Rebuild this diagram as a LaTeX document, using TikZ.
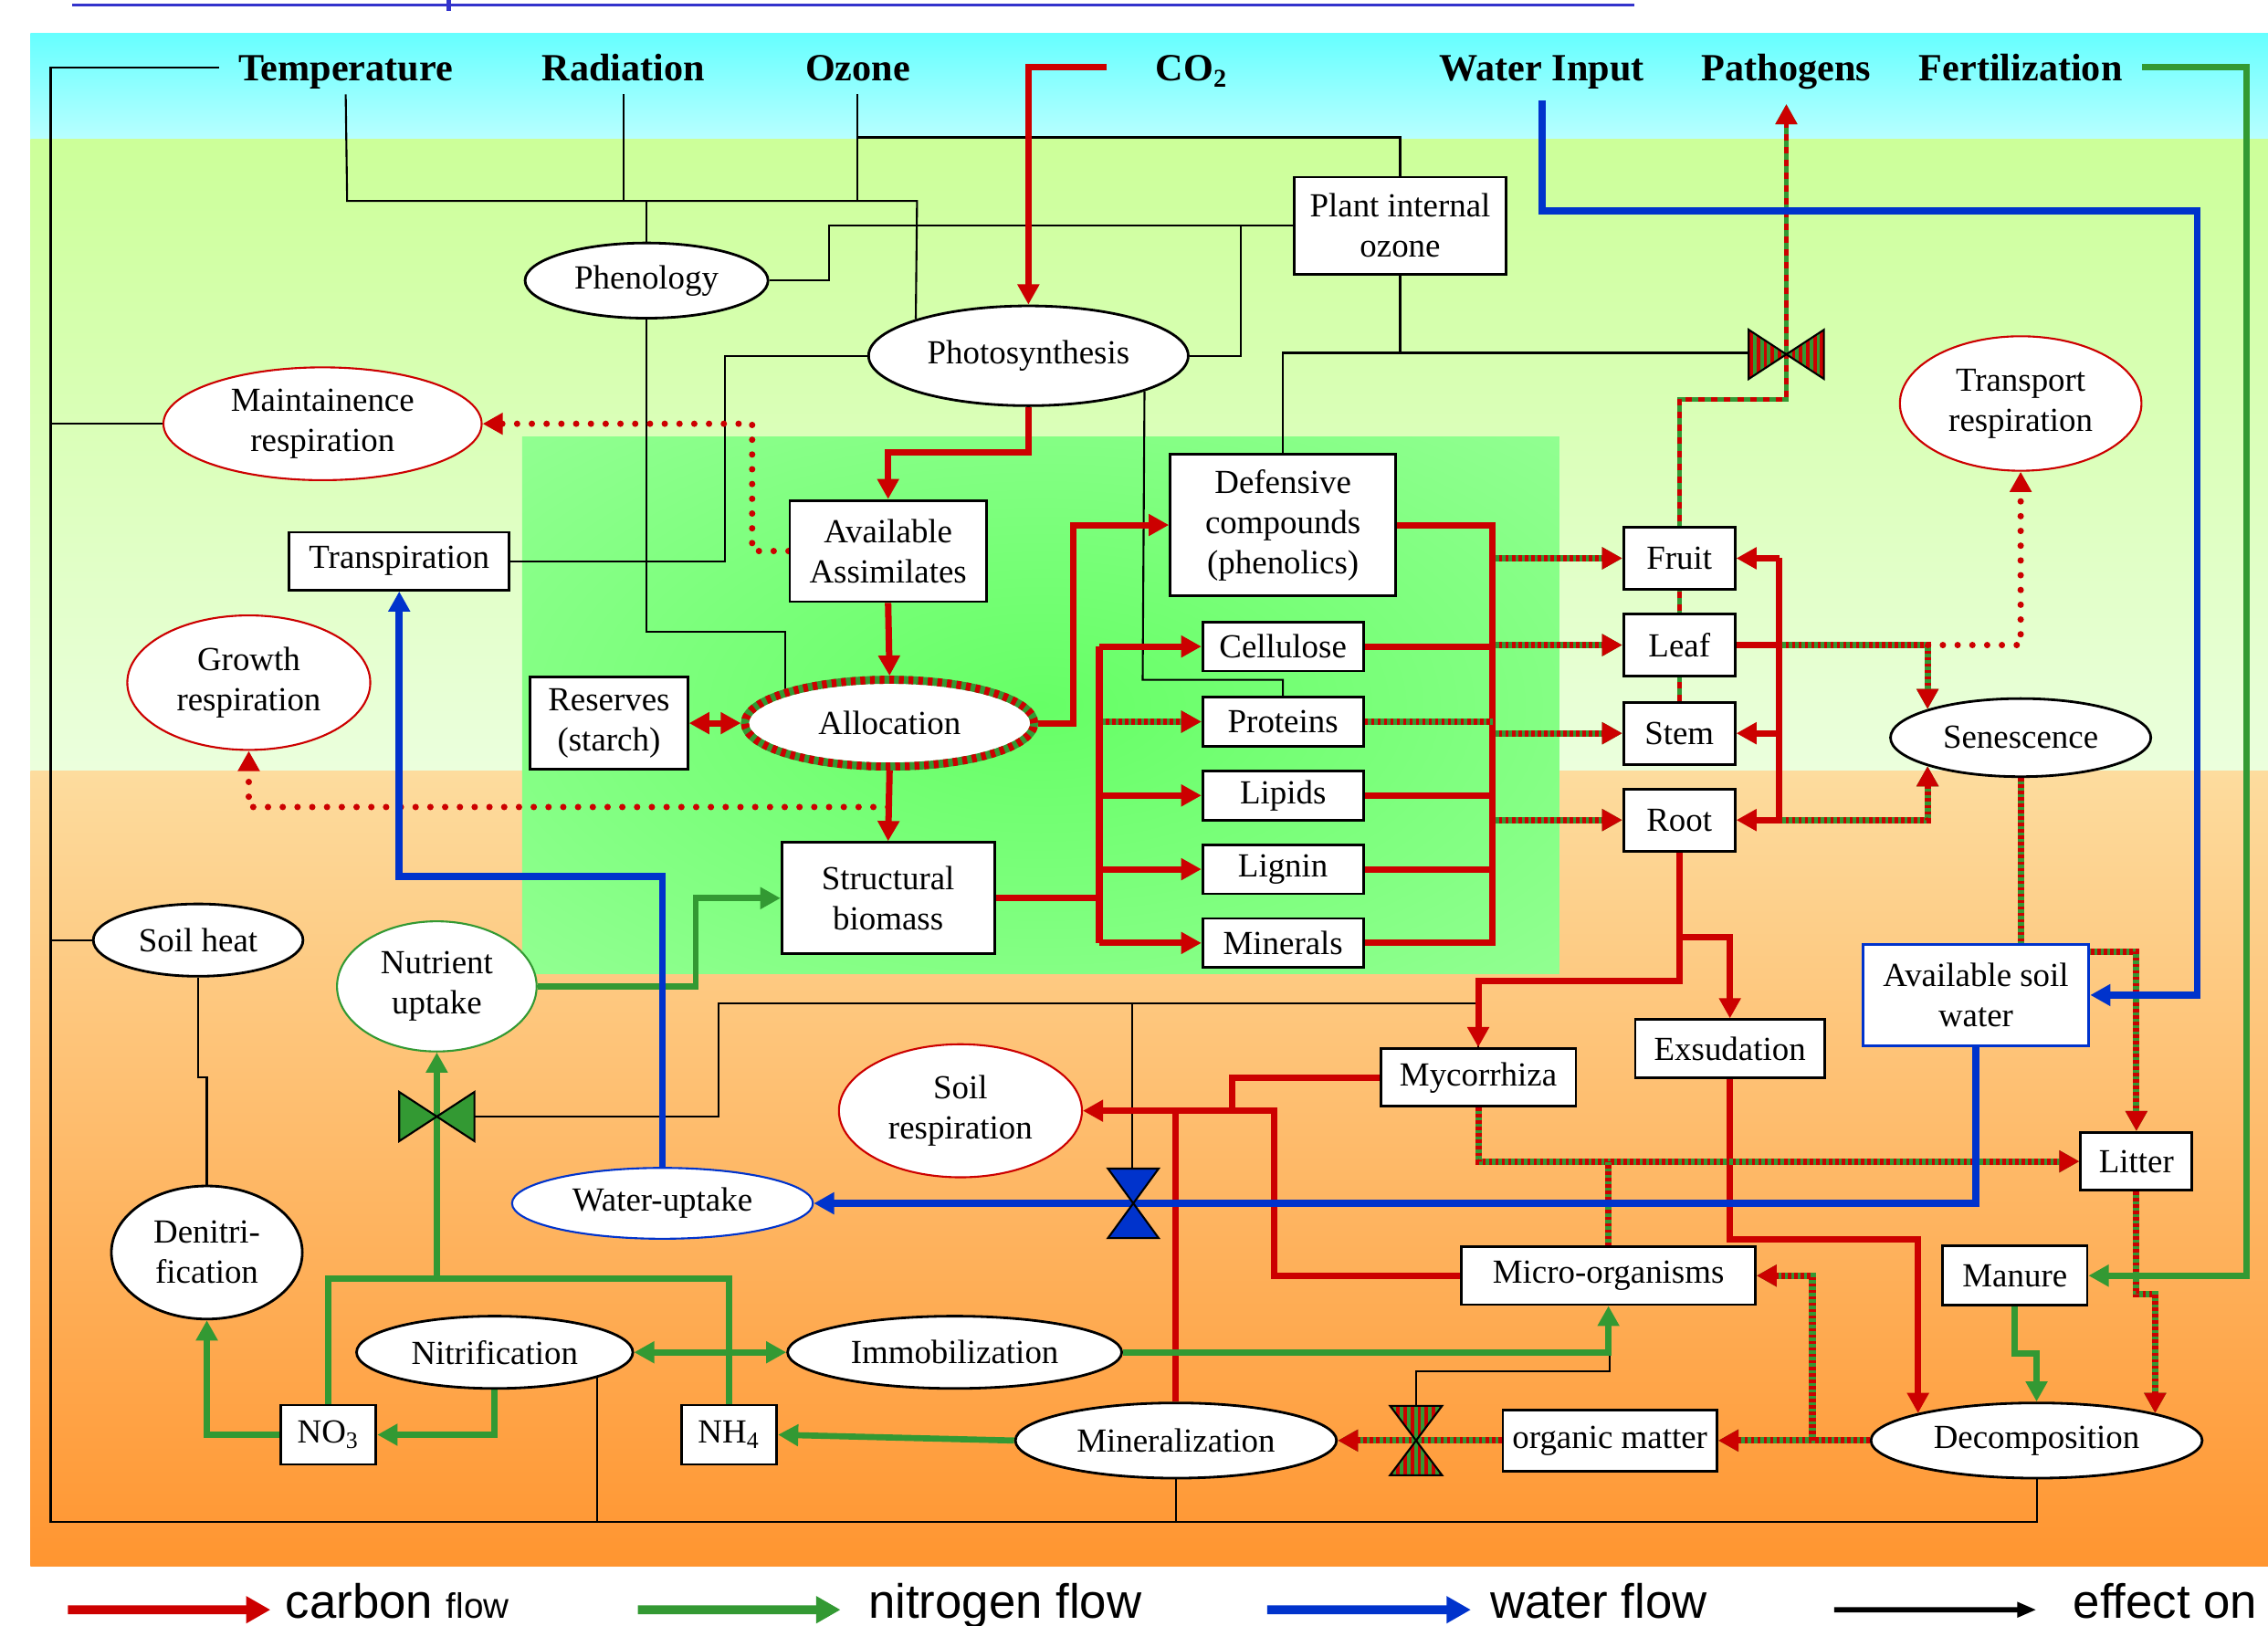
\documentclass[tikz,border=0pt]{standalone}
\usepackage{fontspec}
\setmainfont{Liberation Serif}
\newfontfamily\legfont{Liberation Sans}
\usetikzlibrary{shapes.geometric,arrows.meta,patterns.meta}

\definecolor{cred}{HTML}{CC0000}
\definecolor{cgreen}{HTML}{339933}
\definecolor{cblue}{HTML}{0033CC}
\definecolor{topblue}{HTML}{3333CC}
\definecolor{sky1}{HTML}{66FFFF}
\definecolor{sky2}{HTML}{B8FFFF}
\definecolor{plant1}{HTML}{CCFF99}
\definecolor{plant2}{HTML}{EBFFDD}
\definecolor{soil1}{HTML}{FDDC9E}
\definecolor{soil2}{HTML}{FF9530}
\definecolor{core1}{HTML}{66FF66}
\definecolor{core2}{HTML}{A3FFA3}
\pgfdeclareradialshading{coreshade}{\pgfpoint{0bp}{0bp}}{color(0bp)=(core1); color(50bp)=(core2)}

\pgfdeclarelayer{bg}
\pgfdeclarelayer{lines}
\pgfsetlayers{bg,lines,main}

\newcommand\ux{0.01584cm}
\newcommand\ndfont{\fontsize{10.5}{12.5}\selectfont}

\tikzset{
  sz/.style 2 args={minimum width=#1*\ux, minimum height=#2*\ux},
  obox/.style={draw, fill=white, line width=0.8pt, inner sep=0pt, align=center, font=\ndfont},
  oell/.style={ellipse, draw, fill=white, line width=0.8pt, inner sep=0pt, align=center, font=\ndfont},
  rell/.style={oell, draw=cred, line width=0.6pt},
  mixborder/.style={draw=cgreen, line width=2.5pt, postaction={draw=cred, line width=2.5pt, dash pattern=on 1.5pt off 1.5pt}},
  topl/.style={anchor=base, font=\fontsize{12}{14}\selectfont\bfseries, text height=8.5pt, text depth=0pt, inner xsep=6pt, inner ysep=4pt},
  legt/.style={anchor=base west, font=\legfont\fontsize{15}{15}\selectfont, inner sep=0pt, text height=5.4pt, text depth=0pt},
  eff/.style={line width=0.6pt},
  cflow/.style={draw=cred, line width=2pt},
  nflow/.style={draw=cgreen, line width=1.9pt},
  wflow/.style={draw=cblue, line width=2.2pt},
  mixthick/.style={draw=cgreen, line width=2pt, postaction={draw=cred, line width=2pt, dash pattern=on 1pt off 1pt}},
  mixthin/.style={draw=cgreen, line width=1.5pt, postaction={draw=cred, line width=1.5pt, dash pattern=on 2pt off 2pt}},
  dotflow/.style={draw=cred, line width=2pt, line cap=round, dash pattern=on 0pt off 4.6pt},
  arr/.style={-{Triangle[length=6.3pt,width=6.5pt]}},
  darr/.style={{Triangle[length=6.3pt,width=6.5pt]}-{Triangle[length=6.3pt,width=6.5pt]}},
  valve/.style={draw, line width=0.6pt, fill=#1},
  stripes/.style={preaction={fill=cgreen}, preaction={pattern={Lines[angle=90,distance=2.2pt,line width=1.1pt]}, pattern color=cred}, draw, line width=0.6pt},
  legarr/.style={line width=2.8pt, -{Triangle[length=7.6pt,width=8pt]}}
}

\begin{document}
\begin{tikzpicture}[x=\ux, y=-\ux]
\useasboundingbox (0,0) rectangle (1568,1124);

% background bands
\begin{pgfonlayer}{bg}
\shade[top color=sky1, bottom color=sky2] (21,23) rectangle (1568,96);
\shade[top color=plant1, bottom color=plant2] (21,96) rectangle (1568,533);
\shade[top color=soil1, bottom color=soil2] (21,533) rectangle (1568,1083);
\shade[shading=coreshade] (361,302) rectangle (1078,673);
\draw[topblue, line width=0.95pt] (50,3.6) -- (1130,3.6);
\draw[topblue, line width=1.4pt] (310,0) -- (310,7.4);
\end{pgfonlayer}

% drivers
\node[topl] (temp) at (239,56) {Temperature};
\node[topl] (radi) at (431,56) {Radiation};
\node[topl] (ozone) at (593,56) {Ozone};
\node[topl] (co2) at (824,56) {CO\textsubscript{2}};
\node[topl] (water) at (1066,56) {Water Input};
\node[topl] (patho) at (1235,56) {Pathogens};
\node[topl] (fert) at (1397,56) {Fertilization};

% plant
\node[oell, sz={168}{52}] (pheno) at (447,194) {Phenology};
\node[oell, sz={221}{69}] (photo) at (711,246) {Photosynthesis};
\node[obox, sz={146}{67}] (pio) at (968,156) {Plant internal\\ozone};
\node[rell, sz={220}{78}] (maint) at (223,293) {Maintainence\\respiration};
\node[rell, sz={167}{93}] (trans) at (1397,279) {Transport\\respiration};
\node[obox, sz={152}{40}] (transp) at (276,388) {Transpiration};
\node[obox, sz={136}{70}] (assim) at (614,381) {Available\\Assimilates};
\node[obox, sz={156}{98}] (def) at (887,363) {Defensive\\compounds\\(phenolics)};
\node[rell, sz={168}{93}] (growth) at (172,472) {Growth\\respiration};
\node[obox, sz={109}{64}] (res) at (421,500) {Reserves\\(starch)};
\node[oell, sz={200}{60}, mixborder] (alloc) at (615,500) {Allocation};
\node[obox, sz={111}{34}] (cell) at (887,447) {Cellulose};
\node[obox, sz={111}{34}] (prot) at (887,499) {Proteins};
\node[obox, sz={111}{34}] (lipid) at (887,550) {Lipids};
\node[obox, sz={111}{34}] (lignin) at (887,601) {Lignin};
\node[obox, sz={111}{34}] (miner) at (887,652) {Minerals};
\node[obox, sz={147}{77}] (struct) at (614,621) {Structural\\biomass};
\node[obox, sz={77}{43}] (fruit) at (1161,386) {Fruit};
\node[obox, sz={77}{43}] (leaf) at (1161,446) {Leaf};
\node[obox, sz={77}{43}] (stem) at (1161,507) {Stem};
\node[obox, sz={77}{43}] (root) at (1161,567) {Root};
\node[oell, sz={180}{54}] (sen) at (1397,510) {Senescence};

% soil
\node[oell, sz={145}{50}] (heat) at (137,650) {Soil heat};
\node[oell, sz={138}{90}, draw=cgreen, line width=0.6pt] (nutri) at (302,682) {Nutrient\\uptake};
\node[obox, sz={156}{70}, draw=cblue, line width=1pt] (asw) at (1366,688) {Available soil\\water};
\node[obox, sz={131}{40}] (exsud) at (1196,725) {Exsudation};
\node[obox, sz={135}{40}] (myco) at (1022,745) {Mycorrhiza};
\node[rell, sz={168}{92}] (soilresp) at (664,768) {Soil\\respiration};
\node[obox, sz={77}{40}] (litter) at (1477,803) {Litter};
\node[oell, sz={208}{49}, draw=cblue, line width=0.6pt] (wup) at (458,832) {Water-uptake};
\node[oell, sz={132}{92}] (denit) at (143,866) {Denitri-\\fication};
\node[obox, sz={203}{40}] (micro) at (1112,882) {Micro-organisms};
\node[obox, sz={100}{41}] (manure) at (1393,882) {Manure};
\node[oell, sz={191}{50}] (nitri) at (342,935) {Nitrification};
\node[oell, sz={231}{50}] (immob) at (660,935) {Immobilization};
\node[obox, sz={66}{41}] (no3) at (227,992) {NO\textsubscript{3}};
\node[obox, sz={66}{41}] (nh4) at (504,992) {NH\textsubscript{4}};
\node[oell, sz={222}{52}] (minz) at (813,996) {Mineralization};
\node[obox, sz={148}{42}] (orgm) at (1113,996) {organic matter};
\node[oell, sz={229}{52}] (decomp) at (1408,996) {Decomposition};

\begin{pgfonlayer}{lines}
% effects
\draw[eff] (temp.west) -| (35,1052) -| (decomp.south);
\draw[eff] (35,293) -- (maint.west);
\draw[eff] (35,650) -- (heat.west);
\draw[eff] (nitri.346) -- (nitri.346 |- 0,1052);
\draw[eff] (minz.south) -- (813,1052);
\draw[eff] (temp.south) -- (240,139) -- (634,139) -- (photo.162);
\draw[eff] (radi.south) -- (431,139);
\draw[eff] (ozone.south) -- (593,139);
\draw[eff] (447,139) -- (pheno.north);
\draw[eff] (593,95) -| (pio.north);
\draw[eff] (pheno.east) -| (573,156) -- (pio.west);
\draw[eff] (858,156) |- (photo.east);
\draw[eff] (pio.south) -- (968,244) -| (def.north);
\draw[eff] (968,244) -- (1209,244);
\draw[eff] (transp.east) -| (501,246) -- (photo.west);
\draw[eff] (pheno.south) -- (447,437) -| (alloc.162);
\draw[eff] (photo.343) -- (790,470) -| (prot.north);
\draw[eff] (myco.north) -- (1022,694) -- (497,694) |- (328,772);
\draw[eff] (783,694) -- (783,808);
\draw[eff] (979,972) |- (1113,948) -- (1113,935);
\draw[eff] (heat.south) -- (137,745) -- (143,745) -- (denit.north);

% carbon
\draw[cflow, arr] ([xshift=-9pt]co2.west) -| (photo.north);
\draw[cflow, arr] (photo.south) -- (711,313) -| (assim.north);
\draw[cflow, arr] (assim.south) -- (alloc.north);
\draw[cflow, arr] (alloc.south) -- (struct.north);
\draw[cflow, darr] (res.east) -- (alloc.west);
\draw[cflow, arr] (alloc.east) -| (742,363) -- (def.west);
\draw[cflow] (struct.east) -- (760,621);
\draw[cflow] (cell.west -| 760,0) -- (miner.west -| 760,0);
\draw[cflow, arr] (cell.west -| 760,0) -- (cell.west);
\draw[mixthick, arr] (prot.west -| 760,0) -- (prot.west);
\draw[cflow, arr] (lipid.west -| 760,0) -- (lipid.west);
\draw[cflow, arr] (lignin.west -| 760,0) -- (lignin.west);
\draw[cflow, arr] (miner.west -| 760,0) -- (miner.west);
\draw[cflow] (def.east) -- (1032,363) -- (1032,652) -- (miner.east);
\draw[cflow] (cell.east) -- (cell.east -| 1032,0);
\draw[mixthick] (prot.east) -- (prot.east -| 1032,0);
\draw[cflow] (lipid.east) -- (lipid.east -| 1032,0);
\draw[cflow] (lignin.east) -- (lignin.east -| 1032,0);
\draw[mixthick, arr] (fruit.west -| 1032,0) -- (fruit.west);
\draw[mixthick, arr] (leaf.west -| 1032,0) -- (leaf.west);
\draw[mixthick, arr] (stem.west -| 1032,0) -- (stem.west);
\draw[mixthick, arr] (root.west -| 1032,0) -- (root.west);
\draw[mixthin, arr, shorten >=3pt] (stem.north) -- (1161,276) -| (patho.south);
\draw[cflow] (leaf.east) -- (leaf.east -| 1230,0);
\draw[cflow] (fruit.east -| 1230,0) -- (root.east -| 1230,0);
\draw[cflow, arr] (fruit.east -| 1230,0) -- (fruit.east);
\draw[cflow, arr] (stem.east -| 1230,0) -- (stem.east);
\draw[cflow, arr] (root.east -| 1230,0) -- (root.east);
\draw[mixthick, arr] (leaf.east -| 1230,0) -| (sen.163);
\draw[mixthick, arr] (root.east -| 1230,0) -| (sen.197);
\draw[dotflow, arr] (leaf.east -| 1333,0) -| (trans.south);
\draw[dotflow, arr] (assim.west) -| (520,293) -- (maint.east);
\draw[dotflow, arr] (614,558) -| (growth.south);
\draw[mixthick, arr] (sen.south) -- (1397,658) -| (litter.north);
\draw[cflow, arr] (root.south) -- (1161,648) -| (exsud.north);
\draw[cflow, arr] (1161,648) -- (1161,678) -| (myco.north);
\draw[cflow, arr] (myco.west) -| (852,768) -- (soilresp.east);
\draw[cflow] (micro.west) -| (881,768) -- (852,768);
\draw[cflow] (minz.north) -- (minz.north |- 0,768);
\draw[cflow, arr] (exsud.south) -- (1196,857) -| (decomp.167);
\draw[mixthick, arr] (myco.south) |- (litter.west);
\draw[mixthick] (micro.north) -- (micro.north |- litter.west);
\draw[mixthick, arr] (litter.south) -- (1477,895) -| (decomp.13);
\draw[mixthick, arr] (decomp.west) -- (orgm.east);
\draw[mixthick, arr] (decomp.west -| 1253,0) |- (micro.east);
\draw[mixthick, arr] (orgm.west) -- (minz.east);

% nitrogen
\draw[nflow, arr] (fert.east) -| (1553,882) -- (manure.east);
\draw[nflow, arr] (manure.south) -- (1393,936) -| (decomp.north);
\draw[nflow, arr] (immob.east) -| (micro.south);
\draw[nflow, darr] (nitri.east) -- (immob.west);
\draw[nflow, arr] (nitri.south) |- (no3.east);
\draw[nflow, arr] (minz.west) -- (nh4.east);
\draw[nflow, arr] (no3.west) -| (denit.south);
\draw[nflow] (no3.north) |- (302,884) -| (nh4.north);
\draw[nflow, arr] (302,884) -- (nutri.south);
\draw[nflow, arr] (nutri.east) -- (481,682) |- (struct.west);

% water
\draw[wflow, arr] ([yshift=-2pt]water.south) |- (1519,146) |- (asw.east);
\draw[wflow, arr] (asw.south) |- (wup.east);
\draw[wflow, arr] (wup.north) -- (458,606) -| (transp.south);
\end{pgfonlayer}

% valves
\draw[stripes] (1209,228) -- (1261,262) -- (1261,228) -- (1209,262) -- cycle;
\draw[valve=cblue] (766,808) -- (801,856) -- (766,856) -- (801,808) -- cycle;
\draw[valve=cgreen] (276,755) -- (328,789) -- (328,755) -- (276,789) -- cycle;
\draw[stripes] (961,972) -- (997,1020) -- (961,1020) -- (997,972) -- cycle;

% legend
\coordinate (lc0) at (47,1113);
\coordinate (ln0) at (441,1113);
\coordinate (lw0) at (876,1113);
\coordinate (le0) at (1268,1113);
\node[legt] (lcarbon) at (197,1119) {carbon {\fontsize{11}{11}\selectfont flow}};
\node[legt] (lnitro) at (600,1119) {nitrogen flow};
\node[legt] (lwater) at (1030,1119) {water flow};
\node[legt] (leffect) at (1433,1119) {effect on};
\draw[legarr, cred] (lc0) -- ([xshift=-4.5pt]lcarbon.west);
\draw[legarr, cgreen] (ln0) -- ([xshift=-8.5pt]lnitro.west);
\draw[legarr, cblue] (lw0) -- ([xshift=-5.9pt]lwater.west);
\draw[line width=1.6pt, -{Triangle[length=6pt,width=4.5pt]}] (le0) -- ([xshift=-11.3pt]leffect.west);
\end{tikzpicture}
\end{document}
